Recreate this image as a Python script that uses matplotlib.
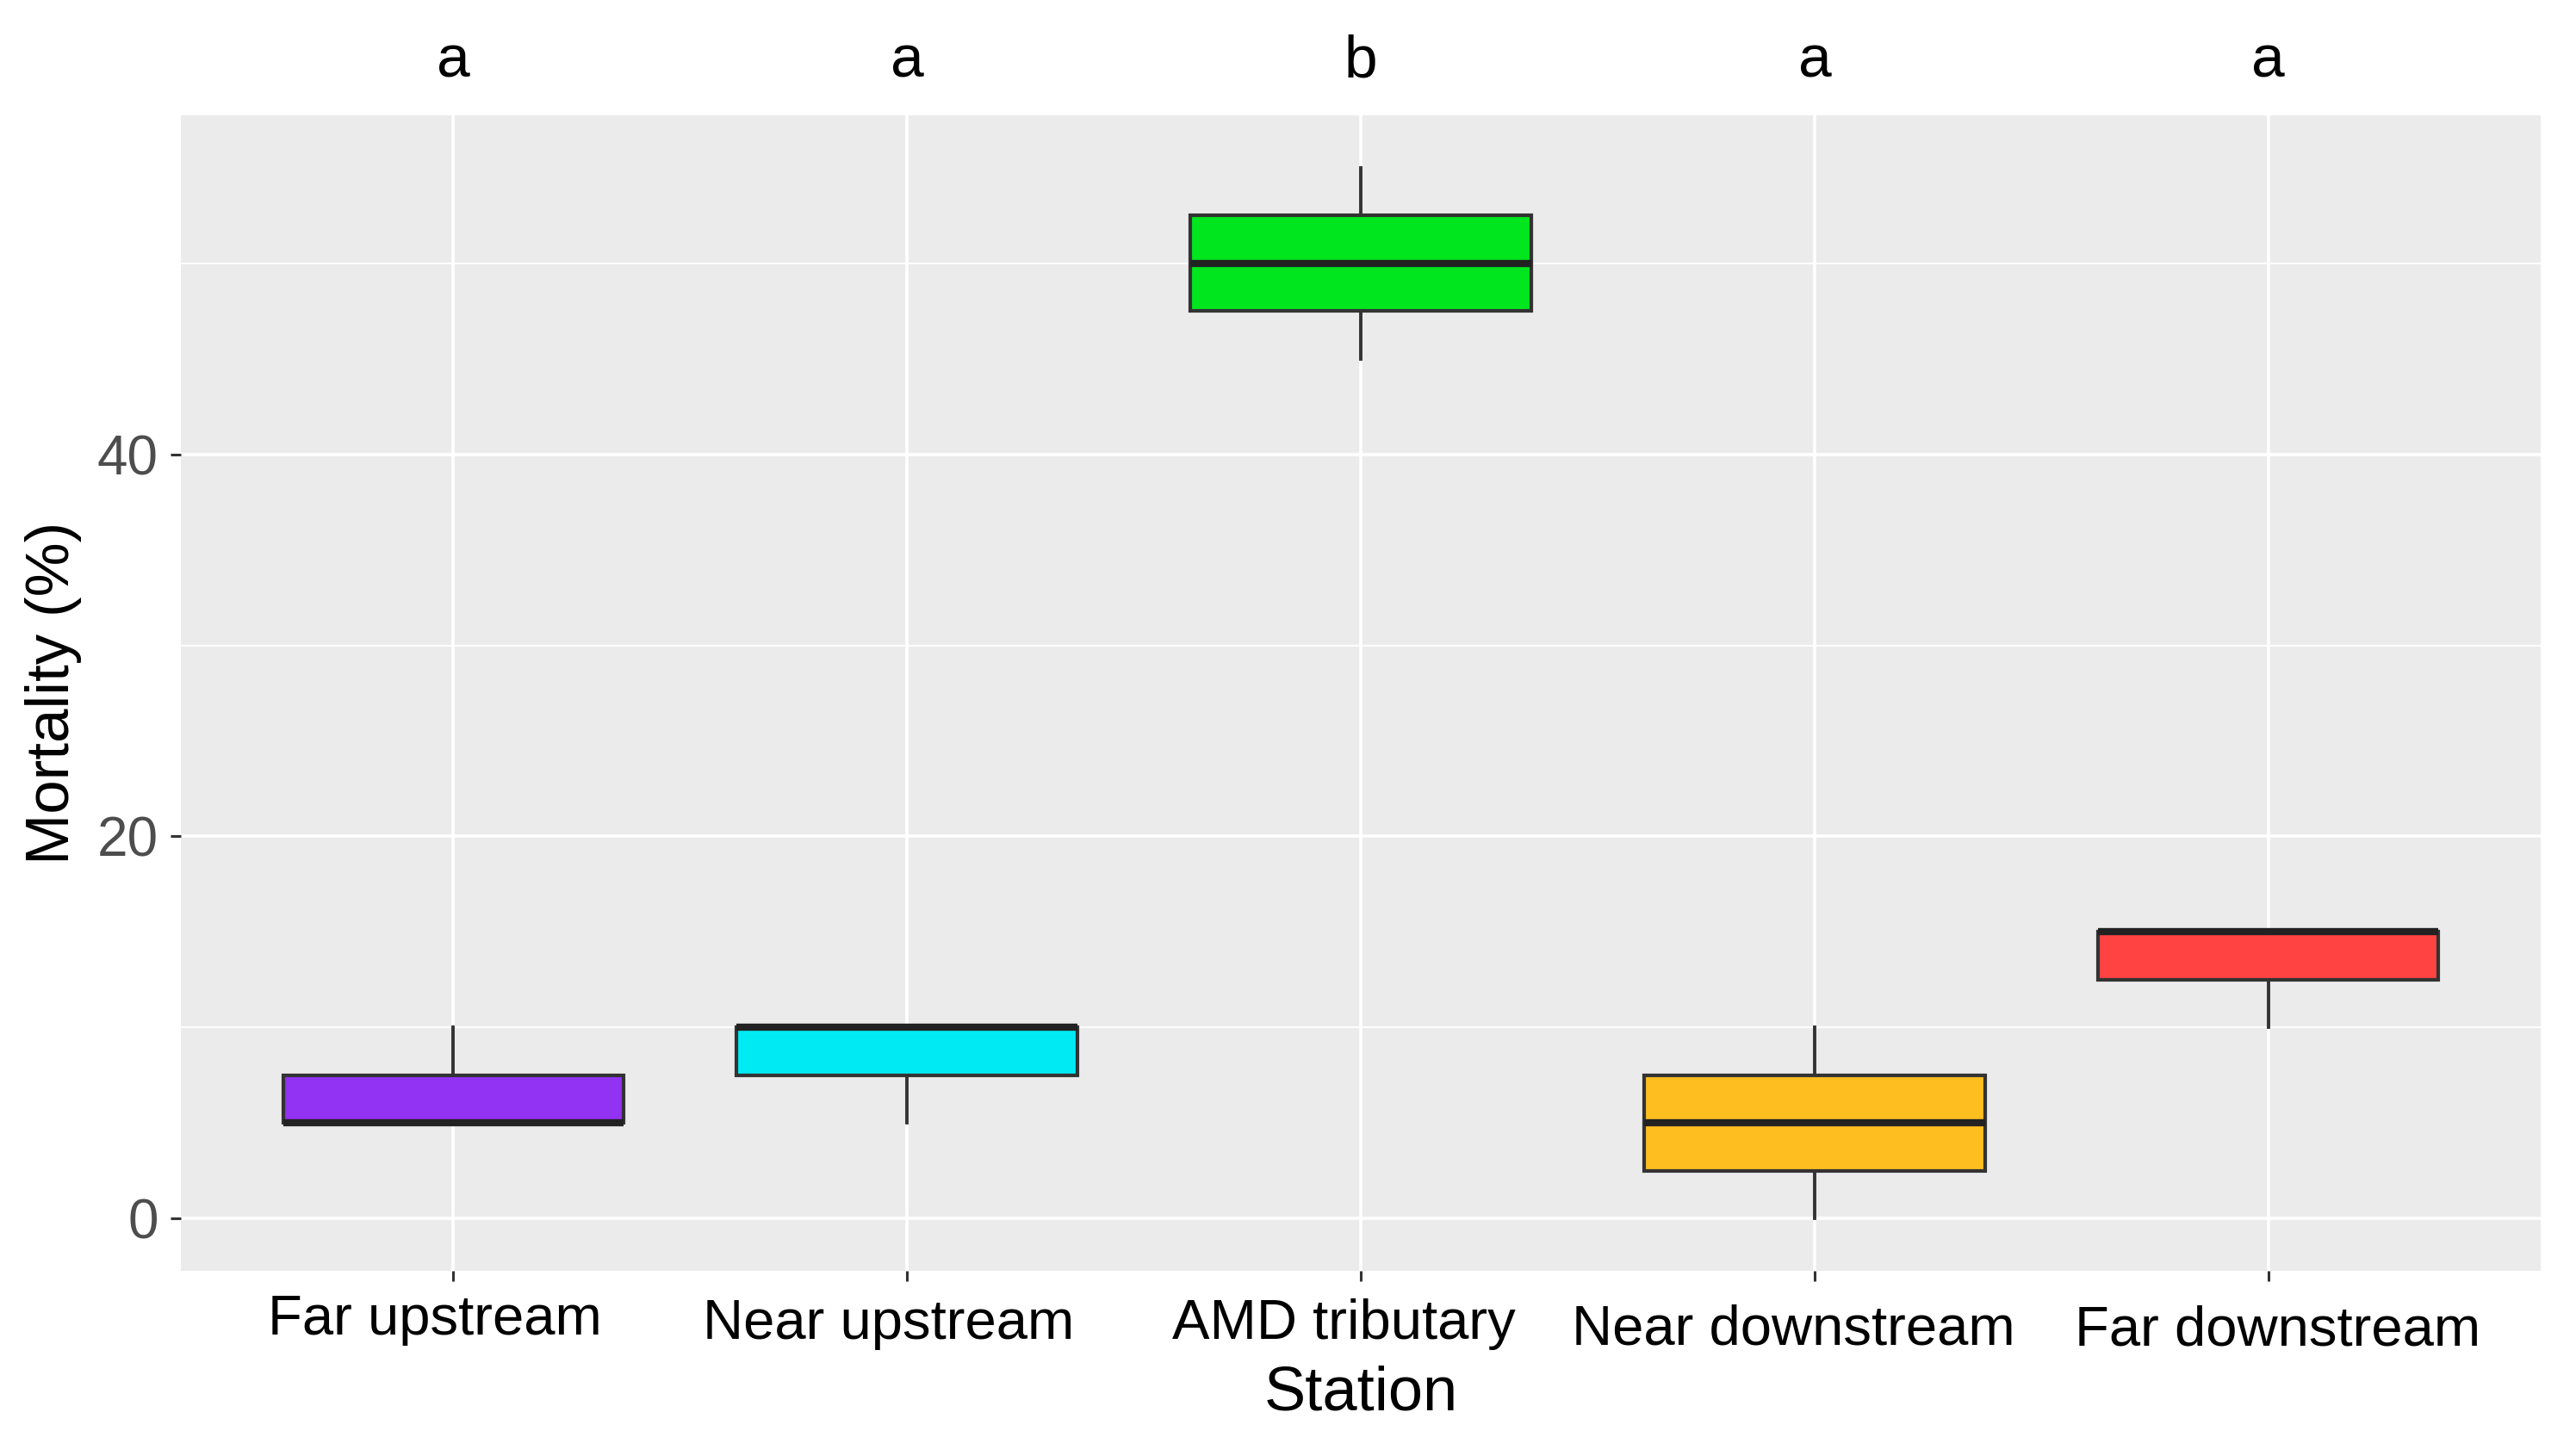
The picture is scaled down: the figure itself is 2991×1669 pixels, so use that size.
import matplotlib
matplotlib.use("Agg")
import matplotlib.pyplot as plt
import matplotlib.transforms as mtransforms
from matplotlib.ticker import FixedLocator

plt.rcParams['font.family'] = ['Liberation Sans', 'DejaVu Sans']

# ---- data ----
stations = ["Far upstream", "Near upstream", "AMD tributary", "Near downstream", "Far downstream"]
whislo = [5, 5, 45, 0, 10]
q1 = [5, 7.5, 47.5, 2.5, 12.5]
med = [5, 10, 50, 5, 15]
q3 = [7.5, 10, 52.5, 7.5, 15]
whishi = [10, 10, 55, 10, 15]
letters = ["a", "a", "b", "a", "a"]
colors = ["#9232F2", "#00EAF4", "#00E61E", "#FFBE20", "#FF4242"]
y_ticks = [0, 20, 40]
y_minor = [10, 30, 50]

DPI = 200
W, H = 2991, 1669
L, R, T, B = 210, 2950, 134, 1476
fig = plt.figure(figsize=(W / DPI, H / DPI), dpi=DPI)
ax = fig.add_axes([L / W, 1 - B / H, (R - L) / W, (B - T) / H])

positions = list(range(1, len(stations) + 1))
stats = []
for i, name in enumerate(stations):
    stats.append(dict(label=name, whislo=whislo[i], q1=q1[i], med=med[i],
                      q3=q3[i], whishi=whishi[i], fliers=[]))

bp = ax.bxp(stats, positions=positions, widths=0.75, patch_artist=True,
            showfliers=False, showcaps=False,
            boxprops=dict(edgecolor="#333333", linewidth=1.5),
            medianprops=dict(color="#222222", linewidth=3.0, solid_capstyle="butt"),
            whiskerprops=dict(color="#333333", linewidth=1.4))
for patch, c in zip(bp["boxes"], colors):
    patch.set_facecolor(c)
    patch.set_zorder(3)
for ln in bp["medians"] + bp["whiskers"]:
    ln.set_zorder(4)

ax.set_xlim(0.4, len(stations) + 0.6)
ax.set_ylim(-2.75, 57.75)
ax.set_facecolor("#EBEBEB")
for s in ax.spines.values():
    s.set_visible(False)

ax.set_xticks(positions)
ax.set_xticklabels(stations)
ax.set_yticks(y_ticks)
ax.yaxis.set_minor_locator(FixedLocator(y_minor))
ax.set_axisbelow(True)
ax.grid(True, which="major", color="white", linewidth=1.3)
ax.grid(True, which="minor", axis="y", color="white", linewidth=0.65)
ax.tick_params(axis="both", which="major", length=4.4, width=1.1, color="#333333")
ax.tick_params(axis="y", which="minor", length=0)
ax.tick_params(axis="x", pad=5.4, labelsize=23.5, labelcolor="black")
ax.tick_params(axis="y", pad=5, labelsize=23, labelcolor="#4D4D4D")

# small per-label offsets as in the reference (pixels)
dxs = [-21, -21, -20, -25, 11]
dys = [0, 5, 5, 11, 12]
for lab, dx, dy in zip(ax.get_xticklabels(), dxs, dys):
    off = mtransforms.ScaledTranslation(dx / DPI, -dy / DPI, fig.dpi_scale_trans)
    lab.set_transform(lab.get_transform() + off)

ax.set_xlabel("Station", fontsize=26, color="black")
ax.xaxis.label.set_va("baseline")
ax.xaxis.set_label_coords(0.5, (B - 1637) / (B - T))
ax.set_ylabel("Mortality (%)", fontsize=25.5, color="black")
ax.yaxis.label.set_va("baseline")
ax.yaxis.set_label_coords((80 - L) / (R - L), 0.5)

# significance letters above the panel
trans = mtransforms.blended_transform_factory(ax.transData, fig.transFigure)
for p, l in zip(positions, letters):
    ax.text(p, 1 - 90 / H, l, transform=trans, ha="center", va="baseline",
            fontsize=25, color="black", clip_on=False)

fig.savefig("out.png", dpi=DPI, facecolor="white")
